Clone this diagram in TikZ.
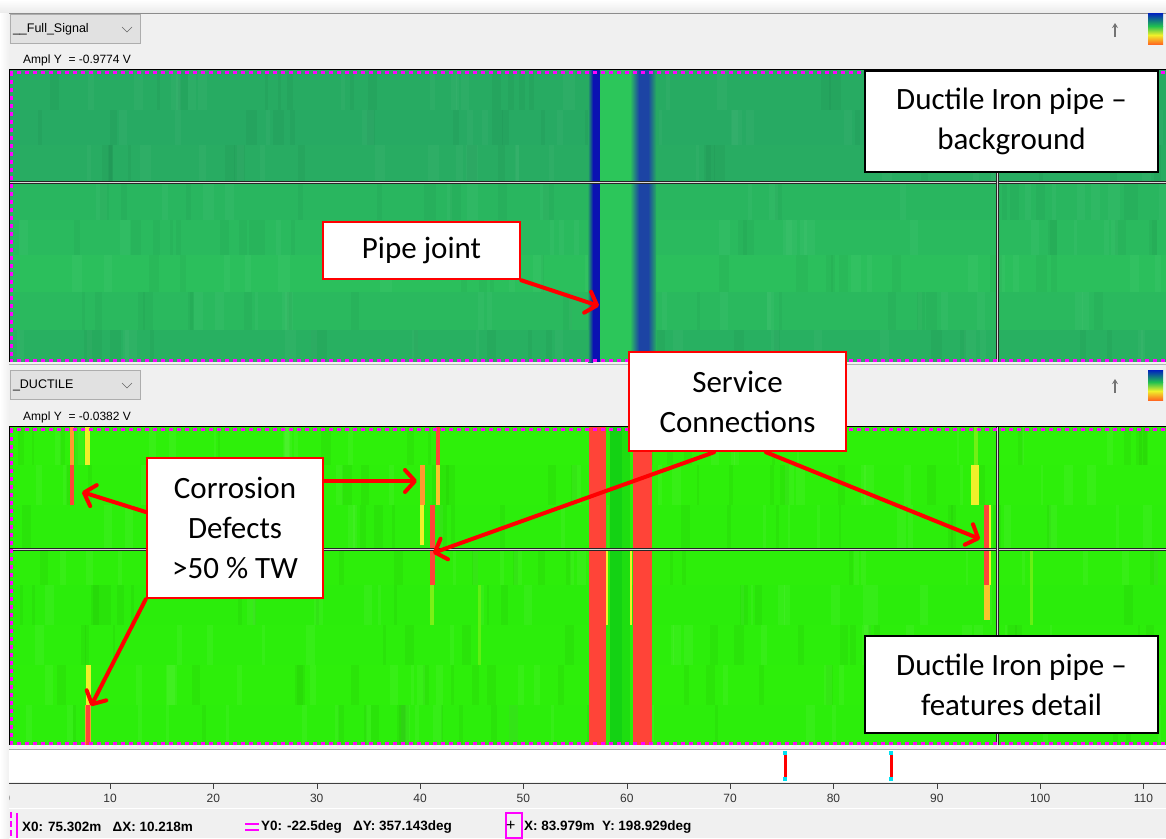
\documentclass[tikz,border=0pt]{standalone}
\usepackage{fontspec}
\setmainfont{Carlito}
\newfontfamily\uifont{Liberation Sans}
\usetikzlibrary{arrows.meta}
\definecolor{winbg}{HTML}{F0F0F0}
\definecolor{ddfill}{HTML}{E1E1E1}
\definecolor{ddline}{HTML}{ADADAD}
\definecolor{fullgreen}{HTML}{27A963}
\definecolor{fulllight}{HTML}{2CC65A}
\definecolor{jointblue}{HTML}{0A12B2}
\definecolor{jointblue2}{HTML}{1C44A4}
\definecolor{ducgreen}{HTML}{2EF00A}
\definecolor{ducdark}{HTML}{14D214}
\definecolor{hotred}{HTML}{FF4438}
\definecolor{hotorange}{HTML}{FF9A30}
\definecolor{hotyellow}{HTML}{F0F02A}
\definecolor{cursmag}{HTML}{FF00FF}
\definecolor{curscyan}{HTML}{00E0F0}
\definecolor{cbblue}{HTML}{0020C0}
\definecolor{cbgreen}{HTML}{20C050}
\definecolor{cborange}{HTML}{FF6A20}

\begin{document}
\begin{tikzpicture}[x=1pt, y=-1pt,
    note/.style={draw=red, line width=2.5pt, fill=white, align=center,
                 inner sep=0pt, font=\fontsize{31}{40}\selectfont},
    darknote/.style={note, draw=black},
    callout/.style={draw=red, line width=4pt, line cap=round,
                    -{Straight Barb[length=10pt,width=22pt,round]}},
    dropbox/.style={draw=ddline, fill=ddfill, minimum height=29pt, inner sep=3pt,
                    text width=124pt, align=left, font=\uifont\fontsize{12.5}{14}\selectfont},
    uitext/.style={font=\uifont\fontsize{12}{14}\selectfont, inner sep=0pt, anchor=west},
    axlabel/.style={font=\uifont\fontsize{12}{14}\selectfont, inner sep=0pt, text=black!80},
    stattext/.style={font=\uifont\bfseries\fontsize{13.5}{15}\selectfont, inner sep=0pt, anchor=west},
    magdots/.style={draw=cursmag, line width=3pt, dash pattern=on 4pt off 4pt},
    divider/.style={line width=3pt, black!85},
    uparrow/.style={draw=black!55, line width=1.5pt, -{Stealth[length=5pt,width=6pt]}},
  ]
  \useasboundingbox (0,0) rectangle (1166,838);
  % window
  \fill[winbg] (0,0) rectangle (1166,838);
  \shade[top color=white, bottom color=black!8] (0,0) rectangle (1166,13);
  \shade[left color=white, right color=winbg] (0,13) rectangle (9,838);
  \draw[black!45] (9,13) -- (1166,13);

  % top panel header
  \node[dropbox] (fullsel) at (75,29) {\_\_Full\_Signal};
  \draw[black!60] (122,27) -- (127,32) -- (132,27);
  \node[uitext] (fullampl) at (23,60) {Ampl Y\ \ = -0.9774 V};
  \shade[top color=cbblue, bottom color=cbgreen] (1148,13) rectangle (1163,26);
  \shade[top color=cbgreen, bottom color=hotyellow] (1148,26) rectangle (1163,35);
  \shade[top color=hotyellow, bottom color=cborange] (1148,35) rectangle (1163,44);
  \draw[uparrow] (1115,37) -- (1115,23);

  % top heatmap
  \pgfmathsetseed{42}
  \foreach \ya/\yb/\p in {70/110/6,110/145/4,145/182/12,182/220/45,220/255/60,255/292/75,292/330/55,330/362/25}{
    \fill[fulllight!\p!fullgreen] (9,\ya) rectangle (1166,\yb);
    \foreach \k in {1,...,18}{
      \pgfmathsetmacro\sx{10+1150*rnd}
      \pgfmathsetmacro\sw{3+9*rnd}
      \fill[black, opacity=0.03] (\sx,\ya) rectangle ++(\sw,\yb-\ya);
      \pgfmathsetmacro\sx{10+1150*rnd}
      \fill[white, opacity=0.03] (\sx,\ya) rectangle ++(\sw,\yb-\ya);
    }
  }
  \fill[fulllight] (600,70) rectangle (632,362);
  \shade[left color=fullgreen, right color=jointblue] (588,70) rectangle (593,362);
  \fill[jointblue] (593,70) rectangle (600,362);
  \shade[left color=fulllight, right color=jointblue2] (630,70) rectangle (639,362);
  \fill[jointblue2] (639,70) rectangle (648,362);
  \shade[left color=jointblue2, right color=fullgreen] (648,70) rectangle (656,362);
  \draw[divider] (9,182) -- (1166,182);
  \draw[black!15, line width=0.8pt] (9,182) -- (1166,182);
  \draw[divider] (997,70) -- (997,362);
  \draw[black!15, line width=0.8pt] (997,70) -- (997,362);
  \draw[magdots] (9,72) -- (1166,72);
  \draw[magdots] (9,360) -- (1166,360);
  \draw[magdots] (11,72) -- (11,360);
  \draw[black] (9,362) -- (9,69) -- (1166,69);

  % bottom panel header
  \draw[black!30] (9,364) -- (1166,364);
  \node[dropbox] (ducsel) at (75,385) {\_DUCTILE};
  \draw[black!60] (122,383) -- (127,388) -- (132,383);
  \node[uitext] (ducampl) at (23,417) {Ampl Y\ \ = -0.0382 V};
  \shade[top color=cbblue, bottom color=cbgreen] (1148,370) rectangle (1163,382);
  \shade[top color=cbgreen, bottom color=hotyellow] (1148,382) rectangle (1163,391);
  \shade[top color=hotyellow, bottom color=cborange] (1148,391) rectangle (1163,400);
  \draw[uparrow] (1115,393) -- (1115,379);

  % bottom heatmap
  \foreach \ya/\yb/\p in {427/465/100,465/505/96,505/549/92,549/585/95,585/625/90,625/665/94,665/705/97,705/745/92}{
    \fill[ducgreen!\p!ducdark] (9,\ya) rectangle (1166,\yb);
    \foreach \k in {1,...,18}{
      \pgfmathsetmacro\sx{10+1150*rnd}
      \pgfmathsetmacro\sw{2+8*rnd}
      \fill[black, opacity=0.04] (\sx,\ya) rectangle ++(\sw,\yb-\ya);
      \pgfmathsetmacro\sx{10+1150*rnd}
      \fill[white, opacity=0.05] (\sx,\ya) rectangle ++(\sw,\yb-\ya);
    }
  }
  \fill[ducdark] (610,427) rectangle (622,745);
  \fill[ducdark!60!ducgreen] (622,427) rectangle (630,745);
  \foreach \xa/\ya/\xb/\yb/\c in {
      589/427/606/745/hotred, 633/427/652/745/hotred,
      606/549/608/625/hotyellow, 630/549/632/625/hotyellow,
      70/427/74/465/hotorange, 70/465/74/505/hotred,
      85/427/90/465/hotyellow, 86/665/91/705/hotyellow,
      85/705/91/745/hotorange, 86/705/90/745/hotred,
      420/465/425/505/hotorange, 420/505/424/545/hotyellow,
      436/427/440/465/hotred, 436/465/440/505/hotyellow!50!hotorange,
      430/505/435/585/hotred, 430/585/434/625/hotyellow!40!ducgreen,
      971/465/979/505/hotyellow, 974/427/978/465/hotyellow!35!ducgreen,
      984/505/989/585/hotred, 989/505/991/585/hotyellow,
      984/585/990/620/hotorange!50!hotyellow,
      1030/549/1033/625/hotyellow!30!ducgreen, 478/585/481/665/hotyellow!25!ducgreen}
    \fill[\c] (\xa,\ya) rectangle (\xb,\yb);
  \draw[divider] (9,549) -- (1166,549);
  \draw[black!15, line width=0.8pt] (9,549) -- (1166,549);
  \draw[divider] (997,427) -- (997,745);
  \draw[black!15, line width=0.8pt] (997,427) -- (997,745);
  \draw[magdots] (9,429) -- (1166,429);
  \draw[magdots] (9,743) -- (1166,743);
  \draw[magdots] (11,429) -- (11,743);
  \draw[black] (9,745) -- (9,426) -- (1166,426);

  % distance axis
  \fill[white] (9,750) rectangle (1166,782);
  \draw[black!35] (9,749) -- (1166,749);
  \draw[black!75] (9,783) -- (1166,783);
  \begin{scope}
    \clip (9,784) rectangle (1166,806);
    \foreach \v in {0,10,...,110}{
      \draw[black!75] ({6.65+10.335*\v},783) -- ++(0,6);
      \node[axlabel] (tick\v) at ({6.65+10.335*\v},798) {\v};
    }
  \end{scope}
  \foreach \cx in {785,891}{
    \draw[red, line width=3pt] (\cx,753) -- (\cx,779);
    \fill[curscyan] (\cx-2,751) rectangle (\cx+2,755);
    \fill[curscyan] (\cx-2,777) rectangle (\cx+2,781);
  }

  % status bar
  \draw[white, line width=1pt] (9,808) -- (1166,808);
  \draw[cursmag, line width=2pt, dash pattern=on 6pt off 3pt] (11,812) -- (11,838);
  \draw[cursmag, line width=2pt] (17,813) -- (17,838);
  \node[stattext] (statx) at (22,827) {X0: 75.302m\ \ \ ΔX: 10.218m};
  \draw[cursmag, line width=2.5pt] (245,824) -- (259,824);
  \draw[cursmag, line width=2.5pt] (245,830) -- (259,830);
  \node[stattext] (staty) at (261,827) {Y0: -22.5deg\ \ \ ΔY: 357.143deg};
  \draw[cursmag, line width=1.5pt] (506,813) rectangle (522,838);
  \node[stattext, font=\uifont\fontsize{16}{16}\selectfont] (statplus) at (506,826) {+};
  \node[stattext] (statcur) at (524,827) {X: 83.979m\ \ Y: 198.929deg};

  % annotations
  \node[darknote, minimum width=293pt, minimum height=101pt] (bgnote) at (1011.5,121.5)
    {Ductile Iron pipe --\\background};
  \node[note, minimum width=197pt, minimum height=57pt] (jointnote) at (421.5,250.5) {Pipe joint};
  \node[note, minimum width=217pt, minimum height=99pt] (servnote) at (737.5,401.5)
    {Service\\Connections};
  \node[note, minimum width=176pt, minimum height=140pt] (corrnote) at (235,528)
    {Corrosion\\Defects\\>50 \% TW};
  \node[darknote, minimum width=293pt, minimum height=97pt] (featnote) at (1011.5,684.5)
    {Ductile Iron pipe --\\features detail};

  \coordinate (jointtip) at (599,306);
  \coordinate (corrtipA) at (82,492);
  \coordinate (corrtipB) at (417,481);
  \coordinate (corrtipC) at (91,706);
  \coordinate (servtipA) at (433,553);
  \coordinate (servtipB) at (980,539);

  \draw[callout] (jointnote.south east) -- (jointtip);
  \draw[callout] ([yshift=16pt]corrnote.west) -- (corrtipA);
  \draw[callout] ([yshift=47pt]corrnote.east) -- (corrtipB);
  \draw[callout] (corrnote.south west) -- (corrtipC);
  \draw[callout] ([xshift=-23.5pt]servnote.south) -- (servtipA);
  \draw[callout] ([xshift=28.5pt]servnote.south) -- (servtipB);
\end{tikzpicture}
\end{document}
